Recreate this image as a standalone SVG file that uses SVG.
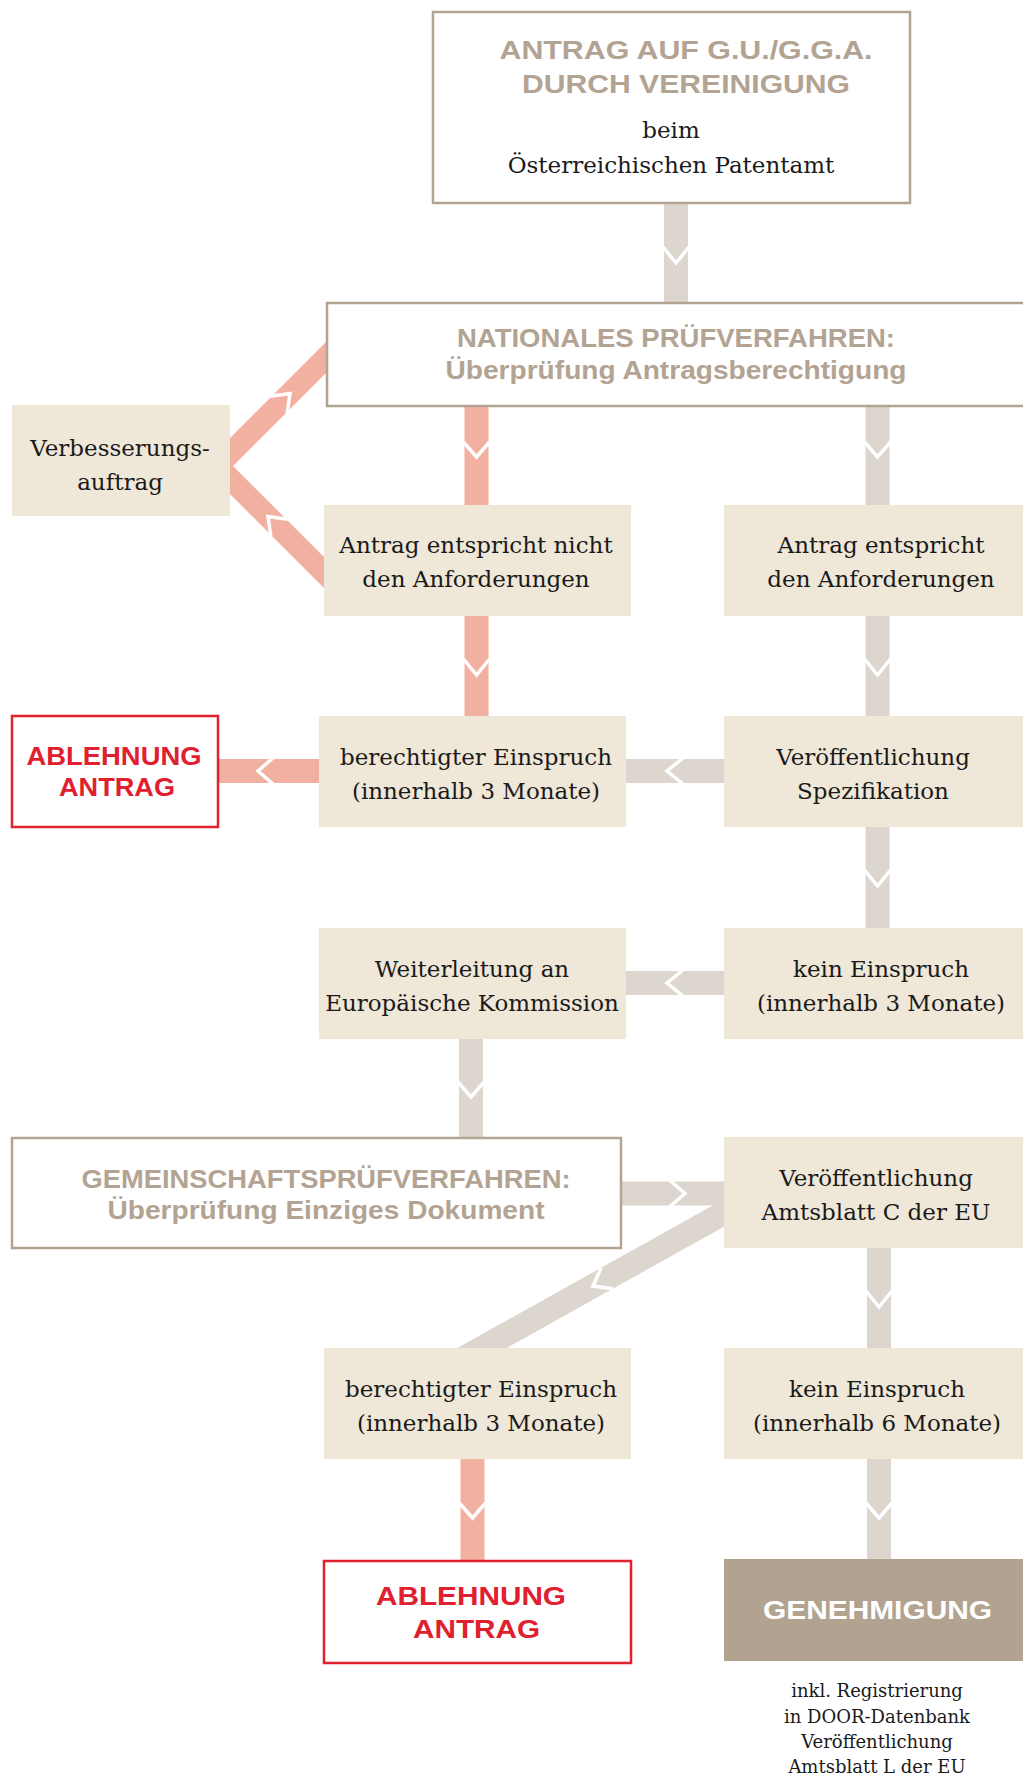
<svg xmlns="http://www.w3.org/2000/svg" width="1023" height="1778" viewBox="0 0 1023 1778">
<style>
.bg{fill:#ffffff}
.box{fill:#efe7d8}
.wbox{fill:#ffffff;stroke:#b3a393;stroke-width:2.5}
.rbox{fill:#ffffff;stroke:#e1202f;stroke-width:2.5}
.gbox{fill:#b2a391}
.grey{stroke:#ddd6cf;stroke-width:24;fill:none}
.pink{stroke:#f2b0a0;stroke-width:24;fill:none}
.pinkd{stroke:#f2b0a0;stroke-width:22;fill:none;stroke-linejoin:miter}
.chev{stroke:#ffffff;stroke-width:3.5;fill:none;stroke-linejoin:miter}
.t{font-family:"DejaVu Serif","Liberation Serif",serif;font-size:23px;fill:#1a1a1a;text-anchor:middle}
.small{font-size:18px}
.h{font-family:"Liberation Sans",Arial,sans-serif;font-weight:700;font-size:26px;fill:#b3a393;text-anchor:middle}
.red{fill:#e1202f}
.white{fill:#ffffff}
</style>
<rect class="bg" x="0" y="0" width="1023" height="1778"/>
<g id="connectors">
  <line class="grey" x1="676" y1="200" x2="676" y2="306"/>
  <polyline class="chev" points="663,247 676,263 689,247"/>
  <polyline class="pinkd" points="340,343.5 217.5,466 338,586.5"/>
  <polyline class="chev" points="270.2,396.3 290,393.5 287.2,413.3"/>
  <polyline class="chev" points="287.8,519.3 268,516.5 270.8,536.3"/>
  <line class="pink" x1="476.5" y1="404" x2="476.5" y2="507"/>
  <polyline class="chev" points="463.5,442 476.5,457 489.5,442"/>
  <line class="grey" x1="877.5" y1="404" x2="877.5" y2="507"/>
  <polyline class="chev" points="864.5,442 877.5,457 890.5,442"/>
  <line class="pink" x1="476.5" y1="614" x2="476.5" y2="718"/>
  <polyline class="chev" points="463.5,659 476.5,675 489.5,659"/>
  <line class="grey" x1="877.5" y1="614" x2="877.5" y2="718"/>
  <polyline class="chev" points="864.5,659 877.5,675 890.5,659"/>
  <line class="pink" x1="216" y1="771" x2="321" y2="771"/>
  <polyline class="chev" points="273,758 258,771 273,784"/>
  <line class="grey" x1="624" y1="771" x2="726" y2="771"/>
  <polyline class="chev" points="683,758 667,771 683,784"/>
  <line class="grey" x1="877.5" y1="825" x2="877.5" y2="930"/>
  <polyline class="chev" points="864.5,870 877.5,886 890.5,870"/>
  <line class="grey" x1="624" y1="983" x2="726" y2="983"/>
  <polyline class="chev" points="683,970 667,983 683,996"/>
  <line class="grey" x1="471" y1="1036" x2="471" y2="1140"/>
  <polyline class="chev" points="458,1082 471,1097 484,1082"/>
  <line class="grey" x1="619" y1="1193.5" x2="726" y2="1193.5"/>
  <polyline class="chev" points="670,1180.5 685,1193.5 670,1206.5"/>
  <line class="grey" x1="740" y1="1204" x2="464" y2="1358"/>
  <polyline class="chev" points="601.1,1267.7 593,1286 612.8,1288.7"/>
  <line class="grey" x1="879" y1="1245" x2="879" y2="1350"/>
  <polyline class="chev" points="866,1291 879,1307 892,1291"/>
  <line class="pink" x1="472.5" y1="1457" x2="472.5" y2="1563"/>
  <polyline class="chev" points="459.5,1503 472.5,1518 485.5,1503"/>
  <line class="grey" x1="879" y1="1457" x2="879" y2="1561"/>
  <polyline class="chev" points="866,1503 879,1518 892,1503"/>
</g>
<g id="node-antrag">
  <rect class="wbox" x="433" y="12" width="477" height="191"/>
  <text class="h" x="686" y="59" textLength="373" lengthAdjust="spacingAndGlyphs">ANTRAG AUF G.U./G.G.A.</text>
  <text class="h" x="686" y="93" textLength="328" lengthAdjust="spacingAndGlyphs">DURCH VEREINIGUNG</text>
  <text class="t" x="671" y="138">beim</text>
  <text class="t" x="671" y="173">Österreichischen Patentamt</text>
</g>
<g id="node-national">
  <rect class="wbox" x="327" y="303" width="710" height="103"/>
  <text class="h" x="676" y="347" textLength="438" lengthAdjust="spacingAndGlyphs">NATIONALES PRÜFVERFAHREN:</text>
  <text class="h" x="676" y="379" textLength="461" lengthAdjust="spacingAndGlyphs">Überprüfung Antragsberechtigung</text>
</g>
<g id="node-verbesserung">
  <rect class="box" x="12" y="405" width="218" height="111"/>
  <text class="t" x="120" y="456">Verbesserungs-</text>
  <text class="t" x="120" y="490">auftrag</text>
</g>
<g id="node-nicht">
  <rect class="box" x="324" y="505" width="307" height="111"/>
  <text class="t" x="476" y="553">Antrag entspricht nicht</text>
  <text class="t" x="476" y="587">den Anforderungen</text>
</g>
<g id="node-entspricht">
  <rect class="box" x="724" y="505" width="305" height="111"/>
  <text class="t" x="881" y="553">Antrag entspricht</text>
  <text class="t" x="881" y="587">den Anforderungen</text>
</g>
<g id="node-ablehnung1">
  <rect class="rbox" x="12" y="716" width="206" height="111"/>
  <text class="h red" x="114" y="765" textLength="175" lengthAdjust="spacingAndGlyphs">ABLEHNUNG</text>
  <text class="h red" x="117" y="796" textLength="116" lengthAdjust="spacingAndGlyphs">ANTRAG</text>
</g>
<g id="node-einspruch1">
  <rect class="box" x="319" y="716" width="307" height="111"/>
  <text class="t" x="476" y="765">berechtigter Einspruch</text>
  <text class="t" x="476" y="799">(innerhalb 3 Monate)</text>
</g>
<g id="node-spezifikation">
  <rect class="box" x="724" y="716" width="305" height="111"/>
  <text class="t" x="873" y="765">Veröffentlichung</text>
  <text class="t" x="873" y="799">Spezifikation</text>
</g>
<g id="node-weiterleitung">
  <rect class="box" x="319" y="928" width="307" height="111"/>
  <text class="t" x="472" y="977">Weiterleitung an</text>
  <text class="t" x="472" y="1011">Europäische Kommission</text>
</g>
<g id="node-kein1">
  <rect class="box" x="724" y="928" width="305" height="111"/>
  <text class="t" x="881" y="977">kein Einspruch</text>
  <text class="t" x="881" y="1011">(innerhalb 3 Monate)</text>
</g>
<g id="node-gemeinschaft">
  <rect class="wbox" x="12" y="1138" width="609" height="110"/>
  <text class="h" x="326" y="1188" textLength="489" lengthAdjust="spacingAndGlyphs">GEMEINSCHAFTSPRÜFVERFAHREN:</text>
  <text class="h" x="326" y="1219" textLength="437" lengthAdjust="spacingAndGlyphs">Überprüfung Einziges Dokument</text>
</g>
<g id="node-amtsblattc">
  <rect class="box" x="724" y="1137" width="305" height="111"/>
  <text class="t" x="876" y="1186">Veröffentlichung</text>
  <text class="t" x="876" y="1220">Amtsblatt C der EU</text>
</g>
<g id="node-einspruch2">
  <rect class="box" x="324" y="1348" width="307" height="111"/>
  <text class="t" x="481" y="1397">berechtigter Einspruch</text>
  <text class="t" x="481" y="1431">(innerhalb 3 Monate)</text>
</g>
<g id="node-kein2">
  <rect class="box" x="724" y="1348" width="305" height="111"/>
  <text class="t" x="877" y="1397">kein Einspruch</text>
  <text class="t" x="877" y="1431">(innerhalb 6 Monate)</text>
</g>
<g id="node-ablehnung2">
  <rect class="rbox" x="324" y="1561" width="307" height="102"/>
  <text class="h red" x="471" y="1605" textLength="190" lengthAdjust="spacingAndGlyphs">ABLEHNUNG</text>
  <text class="h red" x="476.5" y="1638" textLength="127" lengthAdjust="spacingAndGlyphs">ANTRAG</text>
</g>
<g id="node-genehmigung">
  <rect class="gbox" x="724" y="1559" width="305" height="102"/>
  <text class="h white" x="877.5" y="1619" textLength="229" lengthAdjust="spacingAndGlyphs">GENEHMIGUNG</text>
</g>
<g id="note-genehmigung">
  <text class="t small" x="877" y="1697">inkl. Registrierung</text>
  <text class="t small" x="877" y="1723">in DOOR-Datenbank</text>
  <text class="t small" x="877" y="1748">Veröffentlichung</text>
  <text class="t small" x="877" y="1773">Amtsblatt L der EU</text>
</g>
</svg>
